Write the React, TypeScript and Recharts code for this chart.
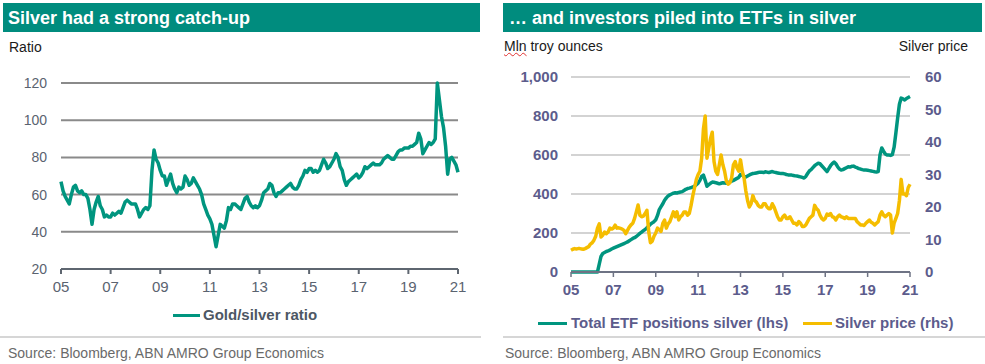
import React from 'react';
import { LineChart, Line, XAxis, YAxis, CartesianGrid } from 'recharts';

// ---------- data (monthly, Jan 2005 .. Jan 2021) ----------
const START_YEAR = 2005;
const yearTicks = [2005, 2007, 2009, 2011, 2013, 2015, 2017, 2019, 2021];
const yearTickLabels = ['05', '07', '09', '11', '13', '15', '17', '19', '21'];
const ratioTicks = [20, 40, 60, 80, 100, 120];
const etfTicks = [0, 200, 400, 600, 800, 1000];
const priceTicks = [0, 10, 20, 30, 40, 50, 60];

const goldSilverRatio = [
  // 2005
  67, 62, 59, 57, 55, 60, 64, 65, 62, 61, 62, 60,
  // 2006
  60, 58, 52, 44, 52, 56, 59, 54, 52, 48, 49, 48,
  // 2007
  48, 50, 49, 50, 51, 50, 53, 56, 57, 56, 55, 55,
  // 2008
  55, 52, 48, 50, 52, 53, 52, 54, 73, 84, 79, 77,
  // 2009
  73, 70, 70, 65, 68, 71, 66, 63, 61, 64, 63, 64,
  // 2010
  70, 68, 65, 66, 69, 67, 65, 63, 60, 55, 52, 49,
  // 2011
  47, 44, 38, 32, 38, 44, 43, 42, 46, 53, 52, 55,
  // 2012
  55, 54, 53, 52, 55, 58, 59, 56, 54, 53, 54, 53,
  // 2013
  54, 57, 61, 62, 63, 66, 65, 61, 59, 61, 61, 62,
  // 2014
  63, 64, 65, 66, 64, 63, 63, 65, 68, 70, 73, 72,
  // 2015
  74, 74, 72, 73, 72, 73, 76, 79, 77, 74, 75, 77,
  // 2016
  79, 82, 80, 75, 73, 68, 65, 67, 68, 69, 70, 71,
  // 2017
  69, 70, 72, 75, 74, 75, 76, 77, 76, 76, 76, 77,
  // 2018
  79, 80, 81, 80, 79, 79, 81, 83, 84, 84, 85, 85,
  // 2019
  85, 86, 86, 87, 88, 93, 90, 82, 84, 86, 88, 87,
  // 2020
  88, 90, 120, 111, 102, 96, 86, 71, 79, 80, 78, 76,
  // Jan 2021
  72,
];

const etfPositions = [
  // 2005
  0, 0, 0, 0, 0, 0, 0, 0, 0, 0, 0, 0,
  // 2006
  0, 0, 0, 0, 40, 80, 95, 100, 105, 108, 112, 118,
  // 2007
  122, 126, 130, 134, 138, 142, 146, 150, 154, 160, 166, 172,
  // 2008
  176, 182, 190, 198, 205, 212, 218, 226, 236, 245, 252, 258,
  // 2009
  268, 290, 320, 335, 350, 368, 380, 390, 396, 400, 404, 406,
  // 2010
  405, 408, 410, 412, 418, 424, 428, 430, 433, 436, 440, 448,
  // 2011
  456, 470, 490, 497, 470, 440, 448, 455, 461, 460, 458, 455,
  // 2012
  452, 455, 458, 456, 455, 458, 462, 466, 470, 475, 480, 485,
  // 2013
  500, 497, 490, 487, 492, 497, 502, 505, 506, 508, 510, 512,
  // 2014
  512, 510, 514, 512, 510, 513, 515, 512, 510, 508, 506, 505,
  // 2015
  505, 503, 500, 498, 497, 497, 495, 493, 492, 490, 488, 485,
  // 2016
  482, 490, 505, 518, 525, 535, 545, 552, 558, 555, 545, 535,
  // 2017
  525, 515, 530, 545, 556, 564, 555, 540, 528, 523, 525, 530,
  // 2018
  535, 540, 538, 542, 543, 538, 535, 530, 528, 525, 523, 523,
  // 2019
  522, 520, 518, 516, 514, 513, 515, 600, 636, 620, 605, 600,
  // 2020
  600, 598, 602, 640, 713, 790, 860, 892, 888, 882, 890, 895,
  // Jan 2021
  900,
];

const silverPrice = [
  // 2005
  6.7, 7.0, 7.2, 7.1, 7.2, 7.2, 7.1, 7.0, 7.2, 7.5, 7.8, 8.6,
  // 2006
  9.0, 9.8, 11.0, 13.5, 14.8, 10.8, 11.3, 12.3, 11.8, 12.3, 13.5, 13.2,
  // 2007
  13.5, 14.4, 13.5, 13.6, 13.4, 13.2, 12.8, 11.8, 12.8, 13.8, 14.5, 15.0,
  // 2008
  16.5, 18.5, 20.6, 17.5, 17.0, 17.2, 18.0, 19.0, 12.5, 9.0, 9.5, 11.0,
  // 2009
  12.0, 13.5, 13.0, 12.5, 15.0, 16.0, 13.5, 14.8, 15.5, 17.0, 18.5, 17.0,
  // 2010
  18.5, 16.0, 17.0, 17.5, 18.5, 18.5, 17.5, 18.0, 20.5, 23.5, 26.0, 28.5,
  // 2011
  30.0, 31.0, 35.0, 44.0, 48.0, 35.0, 38.0, 41.0, 43.0, 34.0, 31.0, 30.0,
  // 2012
  33.0, 36.0, 33.0, 31.0, 28.0, 27.0, 27.5, 29.0, 33.0, 34.0, 32.0, 31.0,
  // 2013
  34.5, 31.0, 29.0, 25.0, 22.0, 20.0, 21.0, 23.5, 22.0, 21.5, 20.5, 20.0,
  // 2014
  20.0, 21.0, 21.0, 20.0, 19.5, 19.5, 21.0, 20.0, 18.5, 17.0, 16.0, 16.0,
  // 2015
  17.0, 17.5, 16.5, 16.5, 17.0, 16.0, 15.0, 15.0, 14.5, 15.5, 15.0, 14.0,
  // 2016
  14.0, 14.5, 15.5, 16.5, 17.0, 17.5, 20.5, 19.5, 19.0, 17.5, 16.5, 16.0,
  // 2017
  16.5, 17.8, 17.5, 18.0, 17.0, 16.8, 16.0, 17.0, 17.5, 17.0, 16.8, 16.5,
  // 2018
  17.0, 16.5, 16.5, 16.5, 16.5, 16.5, 15.5, 15.0, 14.5, 14.5, 14.3, 15.0,
  // 2019
  15.5, 16.0, 15.3, 15.0, 14.5, 15.0, 15.5, 17.5, 18.5, 17.5, 17.0, 17.5,
  // 2020
  18.0, 17.5, 12.0, 15.0, 16.5, 18.0, 22.0, 28.5, 24.0, 24.0, 23.5, 26.0,
  // Jan 2021
  27.0,
];

// ---------- tables built for the library ----------
const ratioData = goldSilverRatio.map((v, i) => ({ t: START_YEAR + i / 12, ratio: v }));
const etfData = etfPositions.map((v, i) => ({ t: START_YEAR + i / 12, etf: v, silver: silverPrice[i] }));

const fmtYear = (v: number) => yearTickLabels[yearTicks.indexOf(v)] ?? '';
const fmtThousands = (v: number) => v.toLocaleString('en-US');

// ---------- styles ----------
const FONT = '"Liberation Sans", Arial, Helvetica, sans-serif';
const TEAL_BAR = '#008c7e';
const TEAL_LINE = '#00957f';
const YELLOW = '#f5bd00';
const LEFT_TICK = '#5a6370';
const RIGHT_TICK = '#5c5c8c';

const abs = (s: React.CSSProperties): React.CSSProperties => ({ position: 'absolute', fontFamily: FONT, whiteSpace: 'nowrap', ...s });

export default function App() {
  return (
    <div style={{ position: 'absolute', left: 0, top: 0, width: 985, height: 364, background: '#ffffff', overflow: 'hidden', fontFamily: FONT }}>
      {/* ---------- LEFT PANEL ---------- */}
      <div style={abs({ left: 3, top: 3, width: 477, height: 29, background: TEAL_BAR })} />
      <div style={abs({ left: 8, top: 4, lineHeight: '29px', fontSize: 18, fontWeight: 700, color: '#ffffff' })}>
        Silver had a strong catch-up
      </div>
      <div style={abs({ left: 9, top: 37, lineHeight: '20px', fontSize: 14, color: '#1a1a1a' })}>Ratio</div>

      <div style={abs({ left: 0, top: 0 })}>
        <LineChart width={490} height={300} data={ratioData} margin={{ top: 83, right: 32, bottom: 1, left: 0 }}>
          <CartesianGrid vertical={false} stroke="#8a8a8a" strokeWidth={2} />
          <XAxis
            dataKey="t"
            type="number"
            domain={[2005, 2021]}
            ticks={yearTicks}
            interval={0}
            tickFormatter={fmtYear}
            height={30}
            axisLine={{ stroke: '#5e6670', strokeWidth: 2 }}
            tickLine={{ stroke: '#5e6670', strokeWidth: 2 }}
            tickSize={5}
            tickMargin={7}
            tick={{ fill: LEFT_TICK, fontSize: 15, fontFamily: FONT }}
          />
          <YAxis
            domain={[20, 120]}
            ticks={ratioTicks}
            interval={0}
            width={61}
            axisLine={false}
            tickLine={false}
            tickSize={6}
            tickMargin={8}
            tick={{ fill: LEFT_TICK, fontSize: 14, fontFamily: FONT }}
          />
          <Line type="linear" dataKey="ratio" stroke={TEAL_LINE} strokeWidth={3.5} strokeLinejoin="round" dot={false} isAnimationActive={false} />
        </LineChart>
      </div>

      <div style={abs({ left: 173, top: 314, width: 27, height: 3, background: TEAL_LINE })} />
      <div style={abs({ left: 203, top: 305, lineHeight: '20px', fontSize: 15, fontWeight: 700, color: '#4d5764' })}>Gold/silver ratio</div>
      <div style={abs({ left: 0, top: 336, width: 481, height: 2, background: '#d6d6d6' })} />
      <div style={abs({ left: 8, top: 343, lineHeight: '20px', fontSize: 14, color: '#6a6a6a' })}>
        Source: Bloomberg, ABN AMRO Group Economics
      </div>

      {/* ---------- RIGHT PANEL ---------- */}
      <div style={abs({ left: 503, top: 3, width: 479, height: 29, background: TEAL_BAR })} />
      <div style={abs({ left: 509, top: 4, lineHeight: '29px', fontSize: 18, fontWeight: 700, color: '#ffffff' })}>
        … and investors piled into ETFs in silver
      </div>
      <div style={abs({ left: 504, top: 36, lineHeight: '20px', fontSize: 14, color: '#1a1a1a' })}>
        <span style={{ textDecoration: 'underline wavy #e03030', textDecorationThickness: 1 }}>Mln</span> troy ounces
      </div>
      <div style={abs({ right: 17, top: 36, lineHeight: '20px', fontSize: 14, color: '#1a1a1a' })}>Silver price</div>

      <div style={abs({ left: 495, top: 0 })}>
        <LineChart width={490} height={310} data={etfData} margin={{ top: 77, right: 0, bottom: 8, left: 0 }}>
          <CartesianGrid vertical={false} yAxisId="left" stroke="#c4c4c4" strokeWidth={1.5} />
          <XAxis
            dataKey="t"
            type="number"
            domain={[2005, 2021]}
            ticks={yearTicks}
            interval={0}
            tickFormatter={fmtYear}
            height={30}
            axisLine={{ stroke: '#6e7384', strokeWidth: 2 }}
            tickLine={{ stroke: '#6e7384', strokeWidth: 1.5 }}
            tickSize={5}
            tickMargin={7}
            tick={{ fill: RIGHT_TICK, fontSize: 15, fontWeight: 700, fontFamily: FONT }}
          />
          <YAxis
            yAxisId="left"
            orientation="left"
            domain={[0, 1000]}
            ticks={etfTicks}
            interval={0}
            width={76}
            axisLine={false}
            tickLine={false}
            tickSize={6}
            tickMargin={7}
            tickFormatter={fmtThousands}
            tick={{ fill: RIGHT_TICK, fontSize: 15, fontWeight: 700, fontFamily: FONT }}
          />
          <YAxis
            yAxisId="right"
            orientation="right"
            domain={[0, 60]}
            ticks={priceTicks}
            interval={0}
            width={75}
            axisLine={false}
            tickLine={false}
            tickSize={6}
            tickMargin={9}
            tick={{ fill: RIGHT_TICK, fontSize: 15, fontWeight: 700, fontFamily: FONT }}
          />
          <Line yAxisId="left" type="linear" dataKey="etf" stroke={TEAL_LINE} strokeWidth={3.5} strokeLinejoin="round" dot={false} isAnimationActive={false} />
          <Line yAxisId="right" type="linear" dataKey="silver" stroke={YELLOW} strokeWidth={3.5} strokeLinejoin="round" dot={false} isAnimationActive={false} />
        </LineChart>
      </div>

      <div style={abs({ left: 538, top: 322, width: 29, height: 3, background: TEAL_LINE })} />
      <div style={abs({ left: 571, top: 313, lineHeight: '20px', fontSize: 15, fontWeight: 700, color: RIGHT_TICK })}>
        Total ETF positions silver (lhs)
      </div>
      <div style={abs({ left: 803, top: 322, width: 29, height: 3, background: YELLOW })} />
      <div style={abs({ left: 835, top: 313, lineHeight: '20px', fontSize: 15, fontWeight: 700, color: RIGHT_TICK })}>
        Silver price (rhs)
      </div>
      <div style={abs({ left: 503, top: 336, width: 482, height: 2, background: '#d6d6d6' })} />
      <div style={abs({ left: 505, top: 343, lineHeight: '20px', fontSize: 14, color: '#6a6a6a' })}>
        Source: Bloomberg, ABN AMRO Group Economics
      </div>
    </div>
  );
}
